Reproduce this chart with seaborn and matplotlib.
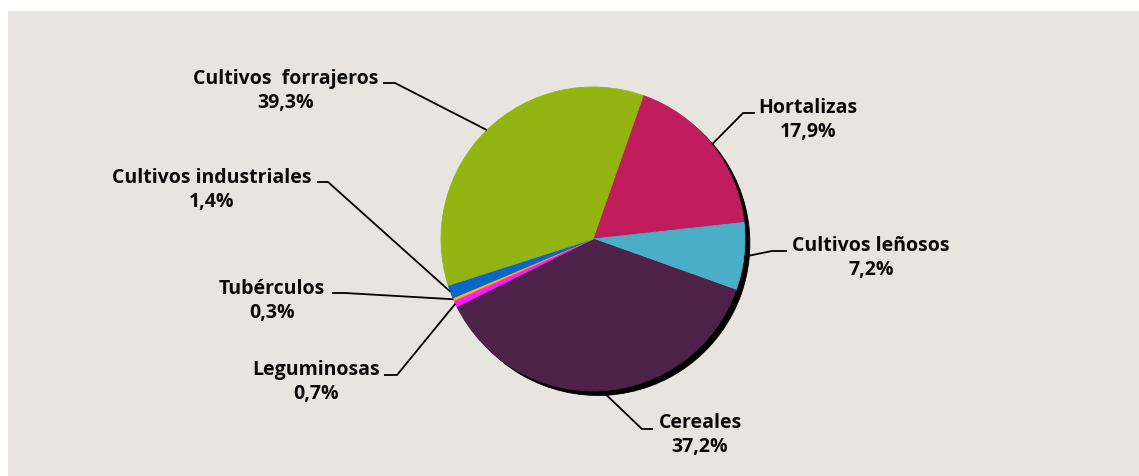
import numpy as np
import matplotlib
matplotlib.use("Agg")
from matplotlib import pyplot as plt
from matplotlib.patches import Rectangle
import seaborn as sns

# data (wedges follow the drawn angles; labels keep the printed text)
categories = ["Hortalizas", "Cultivos leñosos", "Cereales", "Leguminosas",
              "Tubérculos", "Cultivos industriales", "Cultivos  forrajeros"]
shares = [17.9, 7.2, 37.2, 0.7, 0.3, 1.4, 35.3]
pct_labels = ["17,9%", "7,2%", "37,2%", "0,7%", "0,3%", "1,4%", "39,3%"]
colors = ["#c11c5c", "#4aaec6", "#4e2248", "#ff19ff", "#f6b700", "#0a66c8", "#94b511"]

# label layout in pixels: text centre, elbow, end of leader line
text_pos = [(808, 120), (871, 258), (700, 435), (316, 382), (272, 301), (212, 190), (286, 91)]
elbows = [((743, 114), (755, 114)), ((772, 252), (787, 252)), ((642, 430), (653, 430)),
          ((397, 376), (384, 376)), ((345, 294), (332, 294)), ((328, 183), (317, 183)),
          ((395, 84), (383, 84))]

W, H = 1139, 477
CX, CY, R = 593, 240, 152


def fy(y):
    return H - y


sns.set_style("white")
plt.rcParams["font.family"] = ["Open Sans", "DejaVu Sans"]

fig = plt.figure(figsize=(W / 100, H / 100), dpi=100, facecolor="white")
ax = fig.add_axes([0, 0, 1, 1])

ax.add_patch(Rectangle((8, 0), W - 8, H - 12, facecolor="#e8e5e1", edgecolor="none", zorder=0))

wedges, _ = ax.pie(shares, colors=colors, startangle=70.7, counterclock=False,
                   center=(CX, fy(CY)), radius=R,
                   wedgeprops=dict(linewidth=0.6, zorder=3),
                   shadow=dict(ox=3.5, oy=-3.2, shade=1.0, alpha=1.0))
for w, c in zip(wedges, colors):
    w.set_edgecolor(c)

for w, name, pct, (tx, ty), (elb, end) in zip(wedges, categories, pct_labels, text_pos, elbows):
    mid = np.deg2rad((w.theta1 + w.theta2) / 2)
    ax_x = CX + R * np.cos(mid)
    ax_y = fy(CY) + R * np.sin(mid)
    ax.plot([ax_x, elb[0], end[0]], [ax_y, fy(elb[1]), fy(end[1])],
            color="black", lw=1.3, zorder=4, solid_capstyle="butt")
    ax.text(tx, fy(ty), name + "\n" + pct, ha="center", va="center",
            multialignment="center", fontsize=14, fontweight="bold",
            color="#0a0a0a", linespacing=1.25, zorder=5)

ax.set_xlim(0, W)
ax.set_ylim(0, H)
ax.set_aspect("auto")
ax.axis("off")

fig.savefig("out.png", dpi=100, facecolor="white")
